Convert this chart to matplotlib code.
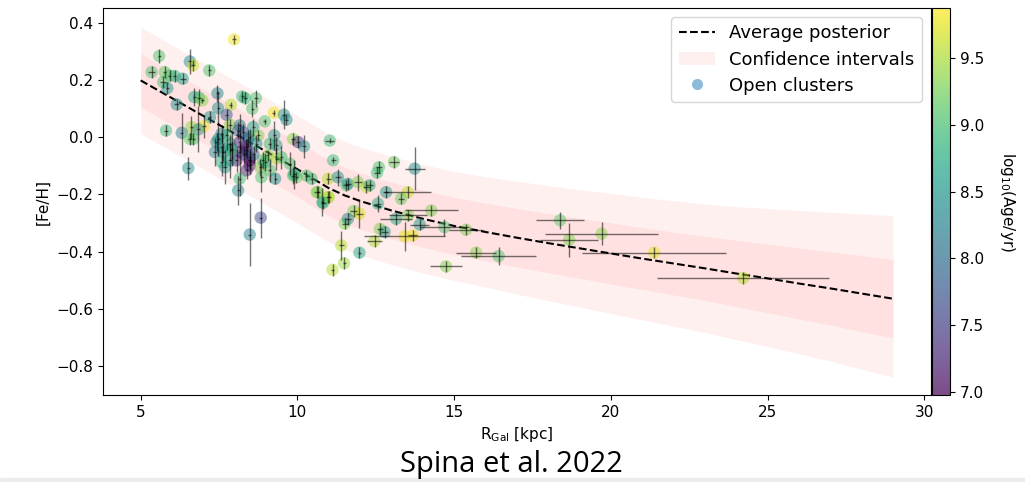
import matplotlib.pyplot as plt
import matplotlib as mpl
from matplotlib.lines import Line2D
from matplotlib.patches import Patch, Rectangle

# posterior curve and confidence bands
r_grid = [5, 6, 7, 8, 9, 10, 10.5, 11, 11.5, 12, 13, 14, 15, 16, 17, 18, 19, 20,
          21, 22, 23, 24, 25, 26, 27, 28, 29]
mean_feh = [0.198, 0.136, 0.074, 0.012, -0.050, -0.112, -0.145, -0.178, -0.203,
            -0.223, -0.256, -0.285, -0.310, -0.331, -0.351, -0.370, -0.388,
            -0.406, -0.424, -0.441, -0.458, -0.476, -0.493, -0.511, -0.528,
            -0.546, -0.564]
inner_hi = [0.291, 0.230, 0.168, 0.107, 0.046, -0.016, -0.048, -0.081, -0.105,
            -0.125, -0.157, -0.185, -0.210, -0.230, -0.249, -0.266, -0.283,
            -0.299, -0.316, -0.331, -0.346, -0.360, -0.373, -0.387, -0.400,
            -0.413, -0.427]
inner_lo = [0.105, 0.042, -0.020, -0.083, -0.146, -0.208, -0.242, -0.275, -0.301,
            -0.321, -0.355, -0.385, -0.410, -0.432, -0.453, -0.474, -0.493,
            -0.513, -0.532, -0.551, -0.570, -0.592, -0.613, -0.635, -0.656,
            -0.679, -0.701]
outer_hi = [0.384, 0.322, 0.260, 0.199, 0.137, 0.076, 0.043, 0.010, -0.014,
            -0.034, -0.067, -0.095, -0.120, -0.138, -0.154, -0.169, -0.183,
            -0.196, -0.210, -0.222, -0.234, -0.242, -0.249, -0.256, -0.262,
            -0.268, -0.274]
outer_lo = [0.012, -0.050, -0.112, -0.175, -0.237, -0.300, -0.333, -0.366, -0.392,
            -0.412, -0.445, -0.475, -0.500, -0.524, -0.548, -0.571, -0.593,
            -0.616, -0.638, -0.660, -0.682, -0.707, -0.731, -0.756, -0.782,
            -0.810, -0.838]

# open clusters: galactocentric radius, [Fe/H], log age and errors
r_gal = [7.98, 5.59, 6.57, 6.67, 7.19, 5.35, 5.77, 5.93, 6.09, 6.34, 5.72, 5.85,
         7.45, 6.71, 6.86, 6.97, 8.24, 8.33, 8.68, 6.15, 7.47, 7.88, 8.56, 7.74,
         7.21, 9.25, 9.57, 9.65, 8.96, 7.85, 7.02, 6.62, 5.81, 6.31, 6.84, 6.68,
         8.16, 8.59, 7.74, 8.11, 8.27, 7.48, 8.48, 8.75, 9.26, 9.86, 10.02, 10.21,
         6.57, 7.37, 7.58, 7.90, 8.16, 8.38, 8.48, 8.48, 8.38, 8.06, 7.85, 7.58,
         7.69, 8.16, 8.11, 8.82, 8.98, 9.12, 9.29, 9.06, 9.33, 9.49, 9.76, 9.86,
         9.97, 10.29, 10.61, 10.82, 10.98, 10.98, 11.29, 11.03, 11.14, 11.56,
         11.51, 11.40, 11.49, 11.12, 6.52, 8.48, 8.83, 12.60, 12.54, 13.08, 13.74,
         10.45, 11.61, 11.93, 12.20, 12.30, 12.83, 13.52, 12.57, 13.31, 10.66,
         11.00, 10.80, 11.79, 11.98, 11.61, 13.15, 13.53, 13.90, 12.63, 12.78,
         12.46, 13.42, 13.68, 11.98, 14.27, 14.69, 15.38, 15.70, 16.42, 14.74,
         18.38, 18.67, 19.70, 21.38, 24.22, 7.58, 7.42, 7.85, 8.16, 8.43, 8.37,
         8.69, 9.12, 9.33, 7.63, 7.90, 8.48, 8.90, 8.85, 9.90, 8.30, 8.60]
feh = [0.341, 0.283, 0.264, 0.250, 0.233, 0.227, 0.227, 0.215, 0.213, 0.204,
       0.192, 0.171, 0.153, 0.140, 0.138, 0.128, 0.142, 0.136, 0.136, 0.114,
       0.101, 0.113, 0.099, 0.078, 0.070, 0.085, 0.078, 0.061, 0.055, 0.043,
       0.038, 0.035, 0.023, 0.015, 0.027, -0.006, 0.041, 0.035, 0.006, 0.023,
       0.017, -0.006, 0.000, 0.006, 0.006, -0.006, -0.017, -0.032, -0.006,
       -0.052, -0.035, -0.041, -0.052, -0.046, -0.070, -0.099, -0.116, -0.081,
       -0.081, -0.087, -0.105, -0.145, -0.186, -0.105, -0.087, -0.116, -0.145,
       -0.064, -0.075, -0.070, -0.093, -0.134, -0.140, -0.134, -0.192, -0.230,
       -0.209, -0.145, -0.140, -0.012, -0.081, -0.168, -0.302, -0.378, -0.440,
       -0.463, -0.108, -0.340, -0.281, -0.105, -0.124, -0.087, -0.110, -0.145,
       -0.163, -0.157, -0.174, -0.168, -0.192, -0.192, -0.232, -0.215, -0.192,
       -0.209, -0.227, -0.258, -0.267, -0.285, -0.285, -0.273, -0.305, -0.320,
       -0.331, -0.363, -0.346, -0.343, -0.403, -0.256, -0.314, -0.323, -0.403,
       -0.415, -0.451, -0.290, -0.358, -0.337, -0.403, -0.492, 0.012, -0.017,
       -0.023, -0.017, -0.006, -0.035, -0.023, -0.023, -0.029, -0.052, -0.046,
       -0.081, -0.081, -0.140, -0.130, -0.060, -0.060]
log_age = [9.80, 9.05, 8.40, 9.65, 9.05, 9.05, 9.15, 9.05, 8.85, 8.60, 9.05, 8.50,
           8.25, 8.75, 8.95, 9.35, 8.95, 8.85, 9.05, 8.45, 8.45, 9.55, 9.05, 7.80,
           8.50, 9.80, 8.50, 8.45, 9.05, 9.35, 9.80, 9.40, 8.95, 8.25, 8.45, 9.00,
           8.15, 8.65, 8.95, 7.85, 7.75, 8.45, 8.55, 9.30, 8.55, 9.35, 7.40, 8.45,
           9.20, 8.20, 8.45, 8.55, 7.20, 7.10, 7.05, 7.15, 7.25, 7.30, 8.45, 8.85,
           8.55, 8.95, 8.40, 9.30, 8.55, 9.05, 8.45, 9.30, 9.55, 8.95, 9.05, 9.05,
           9.20, 9.05, 9.30, 9.05, 9.45, 9.55, 8.45, 8.95, 8.95, 9.05, 9.30, 9.55,
           9.45, 9.55, 8.45, 8.30, 7.60, 9.05, 8.95, 9.20, 8.45, 8.95, 8.45, 9.30,
           9.60, 8.75, 8.55, 9.60, 8.75, 9.20, 9.30, 9.55, 8.75, 9.30, 9.70, 8.30,
           8.75, 9.30, 8.55, 9.30, 8.55, 9.50, 9.75, 9.75, 8.70, 9.30, 9.05, 9.30,
           9.35, 9.05, 9.30, 9.15, 9.30, 9.35, 9.75, 9.55, 8.45, 8.45, 8.70, 7.35,
           7.90, 7.15, 8.55, 8.95, 8.55, 8.55, 8.90, 7.05, 9.05, 9.05, 8.75, 7.55,
           8.10]
err_r = [0.05, 0.05, 0.05, 0.05, 0.05, 0.10, 0.05, 0.05, 0.05, 0.10, 0.10, 0.05,
         0.05, 0.05, 0.05, 0.05, 0.05, 0.05, 0.05, 0.08, 0.05, 0.05, 0.05, 0.05,
         0.05, 0.05, 0.05, 0.05, 0.05, 0.05, 0.05, 0.05, 0.05, 0.05, 0.05, 0.05,
         0.05, 0.05, 0.05, 0.05, 0.05, 0.05, 0.05, 0.05, 0.05, 0.05, 0.05, 0.05,
         0.05, 0.05, 0.05, 0.05, 0.05, 0.05, 0.05, 0.05, 0.05, 0.05, 0.05, 0.05,
         0.05, 0.05, 0.05, 0.05, 0.05, 0.05, 0.05, 0.05, 0.05, 0.05, 0.05, 0.05,
         0.05, 0.05, 0.08, 0.08, 0.08, 0.08, 0.10, 0.15, 0.08, 0.10, 0.10, 0.08,
         0.05, 0.05, 0.05, 0.05, 0.05, 0.10, 0.10, 0.15, 0.32, 0.05, 0.10, 0.12,
         0.10, 0.10, 0.10, 0.75, 0.10, 0.10, 0.05, 0.05, 0.05, 0.10, 0.10, 0.10,
         0.50, 0.60, 0.30, 0.10, 0.10, 0.25, 1.30, 0.15, 0.05, 0.85, 0.77, 0.55,
         0.64, 1.20, 0.50, 0.76, 0.92, 1.80, 2.30, 2.74, 0.05, 0.05, 0.05, 0.05,
         0.05, 0.05, 0.05, 0.05, 0.05, 0.05, 0.05, 0.05, 0.05, 0.05, 0.05, 0.05,
         0.05]
err_feh = [0.015, 0.025, 0.045, 0.02, 0.02, 0.02, 0.02, 0.02, 0.02, 0.02, 0.02,
           0.02, 0.03, 0.03, 0.03, 0.01, 0.02, 0.02, 0.03, 0.02, 0.06, 0.01, 0.03,
           0.02, 0.02, 0.01, 0.05, 0.02, 0.01, 0.02, 0.04, 0.04, 0.02, 0.07, 0.08,
           0.02, 0.04, 0.03, 0.05, 0.03, 0.03, 0.06, 0.03, 0.02, 0.05, 0.02, 0.02,
           0.04, 0.02, 0.05, 0.05, 0.06, 0.03, 0.03, 0.03, 0.03, 0.03, 0.04, 0.06,
           0.05, 0.06, 0.06, 0.05, 0.03, 0.03, 0.04, 0.02, 0.02, 0.04, 0.04, 0.04,
           0.03, 0.02, 0.02, 0.02, 0.02, 0.02, 0.02, 0.03, 0.01, 0.01, 0.02, 0.02,
           0.05, 0.02, 0.02, 0.04, 0.11, 0.07, 0.02, 0.02, 0.02, 0.075, 0.02, 0.02,
           0.03, 0.02, 0.02, 0.02, 0.02, 0.03, 0.02, 0.02, 0.02, 0.05, 0.02, 0.05,
           0.02, 0.02, 0.02, 0.02, 0.02, 0.02, 0.02, 0.05, 0.02, 0.02, 0.02, 0.03,
           0.02, 0.02, 0.03, 0.02, 0.03, 0.06, 0.04, 0.02, 0.02, 0.03, 0.03, 0.03,
           0.03, 0.03, 0.03, 0.03, 0.02, 0.03, 0.03, 0.03, 0.03, 0.03, 0.05, 0.05,
           0.03, 0.03]

age_min, age_max = 6.98, 9.87

fig = plt.figure(figsize=(10.25, 4.82), dpi=100)
ax = fig.add_axes([0.1005, 0.1805, 0.8075, 0.8025])
cax = fig.add_axes([0.9093, 0.1805, 0.0176, 0.8025])

ax.fill_between(r_grid, outer_lo, outer_hi, color='red', alpha=0.06, lw=0)
ax.fill_between(r_grid, inner_lo, inner_hi, color='red', alpha=0.06, lw=0)
ax.plot(r_grid, mean_feh, 'k--', lw=1.5)

norm = mpl.colors.Normalize(vmin=age_min, vmax=age_max)
ax.scatter(r_gal, feh, c=log_age, cmap='viridis', norm=norm, s=80, alpha=0.5,
           lw=0, zorder=2)
ax.errorbar(r_gal, feh, xerr=err_r, yerr=err_feh, fmt='none', ecolor='k',
            elinewidth=1, alpha=0.55, zorder=3)

ax.set_xlim(3.8, 30.2)
ax.set_ylim(-0.9, 0.45)
ax.set_xticks([5, 10, 15, 20, 25, 30])
ax.set_yticks([-0.8, -0.6, -0.4, -0.2, 0.0, 0.2, 0.4])
ax.tick_params(labelsize=11)
ax.set_xlabel(r'R$_{\rm Gal}$ [kpc]', fontsize=11)
ax.set_ylabel('[Fe/H]', fontsize=11)

handles = [Line2D([], [], color='k', ls='--', lw=1.5),
           Patch(facecolor='red', alpha=0.06, lw=0),
           Line2D([], [], marker='o', ls='none', color='C0', alpha=0.5,
                  markeredgewidth=0, markersize=8)]
labels = ['Average posterior', 'Confidence intervals', 'Open clusters']
ax.legend(handles, labels, loc='upper right', fontsize=13, labelspacing=0.45)

sm = mpl.cm.ScalarMappable(norm=norm, cmap='viridis')
cbar = fig.colorbar(sm, cax=cax, alpha=0.7)
cbar.set_ticks([7.0, 7.5, 8.0, 8.5, 9.0, 9.5])
cbar.ax.tick_params(labelsize=11)
cbar.set_label('log$_{10}$(Age/yr)', rotation=270, labelpad=24, fontsize=11)

fig.text(0.4985, 0.006, 'Spina et al. 2022', ha='center', va='bottom',
         fontsize=21, family=['Open Sans', 'DejaVu Sans'])
fig.add_artist(Rectangle((0, 0), 1, 0.008, transform=fig.transFigure,
                         color='#ececec', zorder=0))

fig.savefig('out.png', dpi=100)
